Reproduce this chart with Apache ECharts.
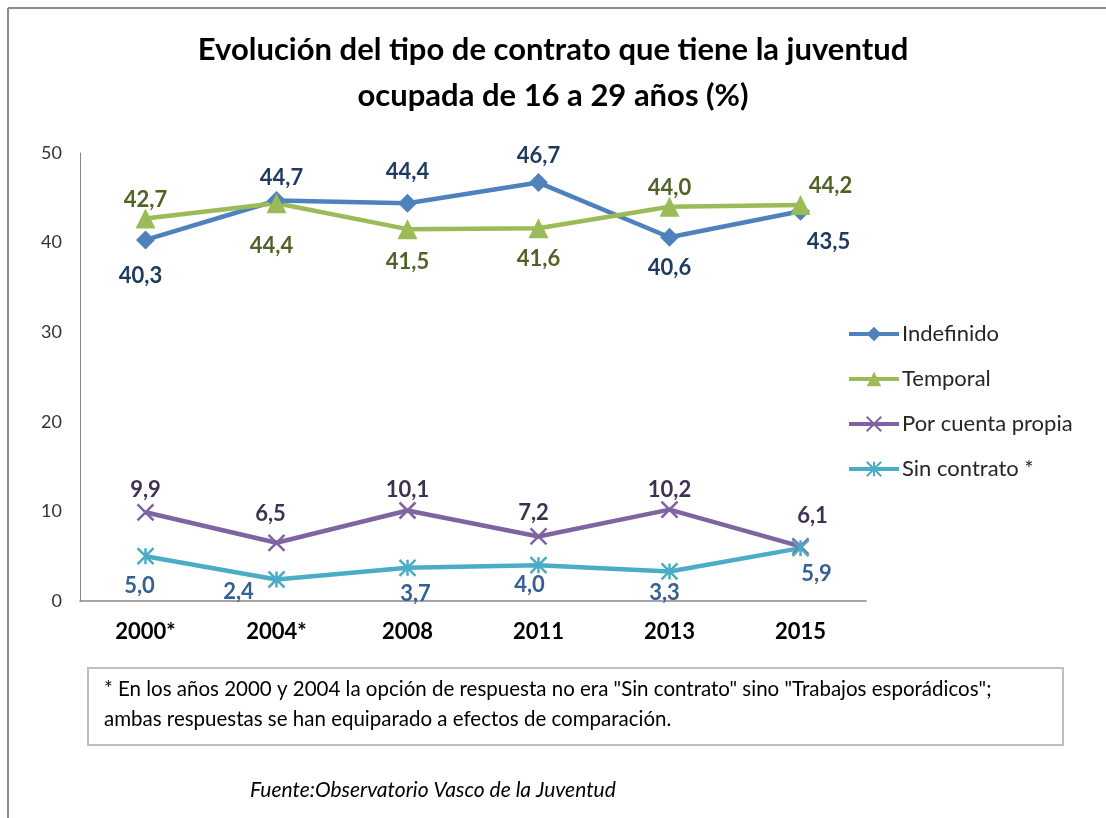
<!DOCTYPE html>
<html><head><meta charset="utf-8">
<script src="https://cdn.jsdelivr.net/npm/echarts@6/dist/echarts.min.js"></script>
<style>html,body{margin:0;padding:0;background:#fff}#c{width:1106px;height:818px}</style>
</head><body><div id="c"></div>
<script>
const categories = ['2000*', '2004*', '2008', '2011', '2013', '2015'];
const indefinido = [40.3, 44.7, 44.4, 46.7, 40.6, 43.5];
const temporal = [42.7, 44.4, 41.5, 41.6, 44.0, 44.2];
const cuentaPropia = [9.9, 6.5, 10.1, 7.2, 10.2, 6.1];
const sinContrato = [5.0, 2.4, 3.7, 4.0, 3.3, 5.9];
const yTicks = [0, 10, 20, 30, 40, 50];

// label offsets from the marker centre (style only)
const offIndef = [[-5,36],[5,-23],[0,-31],[0,-27],[0,31],[28,31]];
const offTemp = [[0,-19],[-5,43],[0,33],[0,31],[0,-19],[30,-19]];
const offProp = [[0,-22],[-6,-29],[0,-21],[-5,-24],[0,-20],[12,-30]];
const offSin = [[-6,30],[-38,12],[8,26],[-9,20],[-5,21],[16,26]];

const FONT = 'Lato, "Open Sans", sans-serif';
const fmt = v => v.toFixed(1).replace('.', ',');

function mkData(vals, offs) {
  return vals.map((v, i) => ({ value: v, label: { position: 'inside', offset: offs[i] } }));
}

function series(name, vals, offs, color, labelColor, symbol, size) {
  const isPath = symbol.startsWith('path');
  return {
    name, type: 'line', data: mkData(vals, offs),
    symbol, symbolSize: size, symbolKeepAspect: true,
    lineStyle: { color, width: 4.5 },
    itemStyle: { color, borderColor: color, borderWidth: isPath ? 2.5 : 0 },
    label: { show: true, formatter: p => fmt(p.value), color: labelColor, fontFamily: FONT, fontWeight: 'bold', fontSize: 22 },
    emphasis: { disabled: true }, animation: false
  };
}

const chart = echarts.init(document.getElementById('c'), null, { renderer: 'canvas' });
chart.setOption({
  backgroundColor: '#fff',
  animation: false,
  title: {
    text: 'Evolución del tipo de contrato que tiene la juventud\nocupada de 16 a 29 años (%)',
    left: 'center', top: 22,
    textStyle: { fontFamily: FONT, fontWeight: 'bold', fontSize: 31, color: '#000', lineHeight: 46 }
  },
  grid: { left: 80, right: 240, top: 153, bottom: 217, containLabel: false },
  legend: {
    orient: 'vertical', left: 842, top: 318, itemGap: 23, itemWidth: 50, itemHeight: 18,
    lineStyle: { width: 4 },
    textStyle: { fontFamily: FONT, fontSize: 22, color: '#262626', padding: [0, 0, 0, -2] },
    data: ['Indefinido', 'Temporal', 'Por cuenta propia', 'Sin contrato *']
  },
  xAxis: {
    type: 'category', data: categories, boundaryGap: true,
    axisLine: { lineStyle: { color: '#868686', width: 1.5 } },
    axisTick: { show: false },
    axisLabel: { fontFamily: FONT, fontWeight: 'bold', fontSize: 22, color: '#000', margin: 20 }
  },
  yAxis: {
    type: 'value', min: yTicks[0], max: yTicks[yTicks.length - 1], interval: yTicks[1] - yTicks[0],
    axisLine: { show: true, lineStyle: { color: '#868686', width: 1 } },
    axisTick: { show: false },
    splitLine: { show: false },
    axisLabel: { fontFamily: FONT, fontSize: 18, color: '#333', margin: 18 }
  },
  series: [
    series('Indefinido', indefinido, offIndef, '#4F81BD', '#1F3A60', 'diamond', 19),
    series('Temporal', temporal, offTemp, '#9BBB59', '#4F6228', 'triangle', 20),
    series('Por cuenta propia', cuentaPropia, offProp, '#8064A2', '#3F3151', 'path://M0,0L10,10M10,0L0,10', 16),
    series('Sin contrato *', sinContrato, offSin, '#4BACC6', '#366092', 'path://M5,0L5,10M0,0L10,10M10,0L0,10', 16)
  ],
  graphic: [
    { type: 'line', shape: { x1: 8, y1: 8, x2: 1106, y2: 8 }, style: { stroke: '#8c8c8c', lineWidth: 2 } },
    { type: 'line', shape: { x1: 8, y1: 8, x2: 8, y2: 818 }, style: { stroke: '#8c8c8c', lineWidth: 2 } },
    { type: 'rect', shape: { x: 88, y: 668, width: 975, height: 77 }, style: { fill: '#fff', stroke: '#bfbfbf', lineWidth: 2 } },
    { type: 'text', left: 104, top: 674, style: { text: '* En los años 2000 y 2004 la opción de respuesta no era "Sin contrato" sino "Trabajos esporádicos";\nambas respuestas se han equiparado a efectos de comparación.', fontFamily: FONT, fontSize: 20.5, lineHeight: 30, fill: '#000' } },
    { type: 'text', left: 250, top: 780, style: { text: 'Fuente:Observatorio Vasco de la Juventud', fontFamily: FONT, fontStyle: 'italic', fontSize: 21, fill: '#000' } }
  ]
});
</script></body></html>
